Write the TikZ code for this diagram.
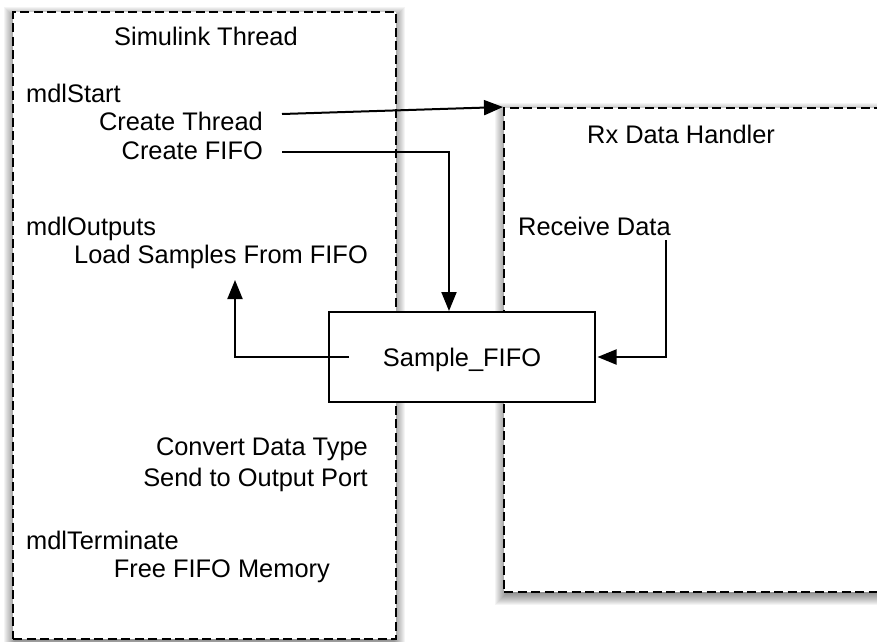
\documentclass[tikz,border=0pt]{standalone}
\usepackage{fontspec}
\setmainfont{Liberation Sans}
\usetikzlibrary{arrows.meta}
\begin{document}
\begin{tikzpicture}[x=1pt,y=-1pt,
  txt/.style={inner sep=0pt,font=\fontsize{25.4}{30}\selectfont},
  dbox/.style={draw,line width=2pt,dash pattern=on 9pt off 4.5pt,fill=white},
  fbox/.style={draw,line width=2pt,fill=white,inner sep=0pt},
  shadowlayer/.style={fill=black,fill opacity=0.045},
  arr/.style={line width=2pt,-{Triangle[length=19pt,width=15pt]}}]
\useasboundingbox (0,0) rectangle (877,641);
\clip (0,0) rectangle (877,641);
% soft shadows
\foreach \e in {-6,...,9}{
  \fill[shadowlayer] ({13-\e},{16-\e}) rectangle ({396+\e},{643+\e});
  \fill[shadowlayer] ({504-\e},{112-\e}) rectangle ({920+\e},{596+\e});
}
% containers
\node[dbox,minimum width=383pt,minimum height=627pt] (sim) at (204.5,325.5) {};
\node[dbox,minimum width=420pt,minimum height=484pt] (rx) at (714,350) {};
% left texts
\node[txt,anchor=base] (simt) at (206,45) {Simulink Thread};
\node[txt,anchor=base west] (ms) at (26,102) {mdlStart};
\node[txt,anchor=base east] (ct) at (263,130) {Create Thread};
\node[txt,anchor=base east] (cf) at (263,159) {Create FIFO};
\node[txt,anchor=base west] (mo) at (26,235) {mdlOutputs};
\node[txt,anchor=base east] (ls) at (368,263) {Load Samples From FIFO};
\node[txt,anchor=base east] (cd) at (368,455) {Convert Data Type};
\node[txt,anchor=base east] (so) at (368,486) {Send to Output Port};
\node[txt,anchor=base west] (mt) at (26,549) {mdlTerminate};
\node[txt,anchor=base east] (ff) at (330,577) {Free FIFO Memory};
% right texts
\node[txt,anchor=base west] (rxt) at (587,143) {Rx Data Handler};
\node[txt,anchor=base west] (rd) at (518,235) {Receive Data};
% FIFO box
\node[fbox,minimum width=266pt,minimum height=90pt] (fifo) at (462,357) {};
\node[txt,anchor=base] (fifot) at (462,366) {Sample\_FIFO};
% connector ends
\coordinate (ctS) at (282,114);
\coordinate (cfS) at (282,152);
\coordinate (foS) at (349,357);
\coordinate (lsE) at (235,280);
\coordinate (rdS) at (666,240);
% connectors
\draw[arr] (ctS) -- (rx.north west);
\draw[arr] (cfS) -| ([xshift=-13pt]fifo.north);
\draw[arr] (foS) -| (lsE);
\draw[arr,shorten >=1.5pt] (rdS) |- (fifo.east);
\end{tikzpicture}
\end{document}
